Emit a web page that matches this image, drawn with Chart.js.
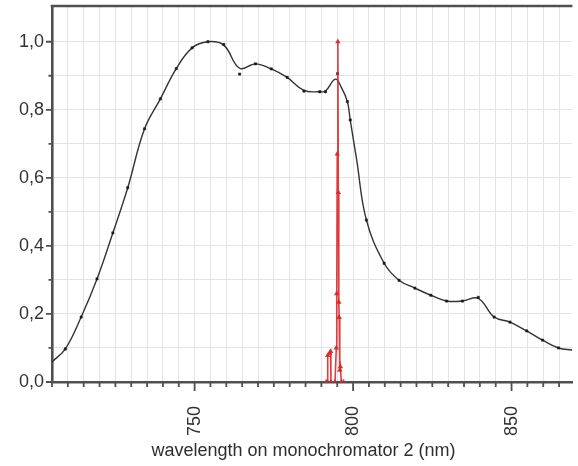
<!DOCTYPE html>
<html>
<head>
<meta charset="utf-8">
<script src="https://cdn.jsdelivr.net/npm/chart.js@4"></script>
<style>
  html, body { margin: 0; padding: 0; background: #fff; }
  #wrap { width: 578px; height: 466px; position: relative; }
</style>
</head>
<body>
<div id="wrap"><canvas id="c"></canvas></div>
<script>
// ---- data ----
const fitWavelength = [705, 709.2, 714.2, 719.2, 724.2, 728.9, 734.2, 739.2, 744.2, 749.2, 754.2, 759.2, 764.2, 769.2, 774.2, 779.2, 784.5, 789.5, 791.3, 794.4, 796.3, 798.2, 799.1, 801.1, 804.2, 809.8, 814.5, 819.5, 824.5, 829.5, 834.5, 839.5, 844.5, 849.5, 854.8, 859.8, 864.8, 869.2];
const fitIntensity  = [0.059, 0.097, 0.191, 0.303, 0.438, 0.571, 0.744, 0.832, 0.921, 0.982, 1.0, 0.99, 0.922, 0.935, 0.92, 0.895, 0.857, 0.853, 0.855, 0.89, 0.866, 0.824, 0.77, 0.655, 0.476, 0.349, 0.299, 0.276, 0.255, 0.238, 0.238, 0.246, 0.191, 0.176, 0.150, 0.123, 0.100, 0.094];

const markerWavelength = [709.2, 714.2, 719.2, 724.2, 728.9, 734.2, 739.2, 744.2, 749.2, 754.2, 759.2, 764.2, 769.2, 774.2, 779.2, 784.5, 789.5, 791.3, 795.1, 798.2, 799.1, 804.2, 809.8, 814.5, 819.5, 824.5, 829.5, 834.5, 839.5, 844.5, 849.5, 854.8, 859.8, 864.8];
const markerIntensity  = [0.097, 0.191, 0.303, 0.438, 0.571, 0.744, 0.832, 0.921, 0.982, 1.0, 0.992, 0.905, 0.935, 0.92, 0.895, 0.855, 0.853, 0.853, 0.906, 0.824, 0.77, 0.476, 0.349, 0.299, 0.276, 0.255, 0.238, 0.238, 0.249, 0.191, 0.176, 0.150, 0.123, 0.100];

const laserWavelength = [791.5, 791.9, 792.0, 792.6, 792.9, 793.0, 794.3, 794.7, 794.85, 795.0, 795.2, 795.35, 795.5, 795.6, 795.8, 796.0, 796.3, 797.0];
const laserIntensity  = [0, 0, 0.078, 0.085, 0.09, 0, 0, 0.10, 0.26, 0.67, 1.0, 0.557, 0.235, 0.19, 0.035, 0.045, 0, 0];

const xTickValues = [705, 710, 715, 720, 725, 730, 735, 740, 745, 750, 755, 760, 765, 770, 775, 780, 785, 790, 795, 800, 805, 810, 815, 820, 825, 830, 835, 840, 845, 850, 855, 860, 865];
const xLabelValues = [750, 800, 850];
const yTickValues = [0, 0.1, 0.2, 0.3, 0.4, 0.5, 0.6, 0.7, 0.8, 0.9, 1.0];
const yLabelValues = [0, 0.2, 0.4, 0.6, 0.8, 1.0];
const xTitle = 'wavelength on monochromator 2 (nm)';

// ---- helpers ----
const toXY = (xs, ys) => xs.map((x, i) => ({ x: x, y: ys[i] }));
const isIn = (arr, v) => arr.some(a => Math.abs(a - v) < 1e-6);
const fmtY = v => v.toFixed(1).replace('.', ',');

const AXIS = '#505050';
const FONT = "'Liberation Sans', Arial, sans-serif";

const decoPlugin = {
  id: 'deco',
  afterDraw(chart) {
    const { ctx, chartArea: { left, right, top, bottom }, scales: { x, y } } = chart;
    ctx.save();
    ctx.strokeStyle = AXIS;
    ctx.lineWidth = 1.8;
    ctx.beginPath();
    xTickValues.forEach(v => {
      const px = x.getPixelForValue(v);
      const len = isIn(xLabelValues, v) ? 9 : 5;
      ctx.moveTo(px, bottom);
      ctx.lineTo(px, bottom + len);
    });
    yTickValues.forEach(v => {
      const py = y.getPixelForValue(v);
      const len = isIn(yLabelValues, v) ? 6 : 3.5;
      ctx.moveTo(left, py);
      ctx.lineTo(left - len, py);
    });
    ctx.stroke();
    // top frame line
    ctx.lineWidth = 2.6;
    ctx.beginPath();
    ctx.moveTo(left - 1.3, top);
    ctx.lineTo(right, top);
    ctx.stroke();
    // axis title
    ctx.fillStyle = '#2e2e2e';
    ctx.font = "18px " + FONT;
    ctx.textAlign = 'center';
    ctx.textBaseline = 'middle';
    ctx.fillText(xTitle, left + 251.5, 451);
    ctx.restore();
  }
};

new Chart(document.getElementById('c'), {
  type: 'scatter',
  data: {
    datasets: [
      {
        label: 'fit',
        data: toXY(fitWavelength, fitIntensity),
        showLine: true,
        borderColor: '#333333',
        borderWidth: 1.4,
        pointRadius: 0,
        tension: 0.4,
        order: 2
      },
      {
        label: 'measured',
        data: toXY(markerWavelength, markerIntensity),
        showLine: false,
        pointStyle: 'rect',
        pointRadius: 1.6,
        backgroundColor: '#1a1a1a',
        borderColor: '#1a1a1a',
        borderWidth: 0.5,
        order: 1
      },
      {
        label: 'laser',
        data: toXY(laserWavelength, laserIntensity),
        showLine: true,
        borderColor: 'rgba(220,40,40,0.9)',
        borderWidth: 1.6,
        pointStyle: 'triangle',
        pointRadius: 1.6,
        backgroundColor: 'rgba(220,40,40,0.9)',
        pointBorderColor: 'rgba(220,40,40,0.9)',
        tension: 0,
        order: 0
      }
    ]
  },
  plugins: [decoPlugin],
  options: {
    responsive: true,
    maintainAspectRatio: false,
    animation: false,
    layout: { padding: { top: 6, right: 0, left: 0, bottom: 0 } },
    plugins: { legend: { display: false }, tooltip: { enabled: false } },
    scales: {
      x: {
        type: 'linear',
        min: 705,
        max: 869.2,
        afterBuildTicks: s => { s.ticks = xTickValues.map(v => ({ value: v })); },
        afterFit: s => { s.height = 84; s.paddingLeft = 0; s.paddingRight = 0; },
        ticks: {
          autoSkip: false,
          minRotation: 90,
          maxRotation: 90,
          padding: 15,
          color: '#333333',
          font: { family: FONT, size: 18 },
          callback: v => isIn(xLabelValues, v) ? String(v) : ''
        },
        grid: {
          color: '#e4e4e4',
          lineWidth: 1,
          drawTicks: true,
          tickLength: 9,
          tickColor: 'rgba(0,0,0,0)'
        },
        border: { display: true, color: AXIS, width: 2.6 }
      },
      y: {
        type: 'linear',
        min: 0,
        max: 1.105,
        afterBuildTicks: s => { s.ticks = yTickValues.map(v => ({ value: v })); },
        afterFit: s => { s.width = 52; s.paddingTop = 0; s.paddingBottom = 0; },
        ticks: {
          padding: 2,
          color: '#333333',
          font: { family: FONT, size: 18 },
          callback: v => isIn(yLabelValues, v) ? fmtY(v) : ''
        },
        grid: {
          color: '#e4e4e4',
          lineWidth: 1,
          drawTicks: true,
          tickLength: 6,
          tickColor: 'rgba(0,0,0,0)'
        },
        border: { display: true, color: AXIS, width: 2.6 }
      }
    }
  }
});
</script>
</body>
</html>
